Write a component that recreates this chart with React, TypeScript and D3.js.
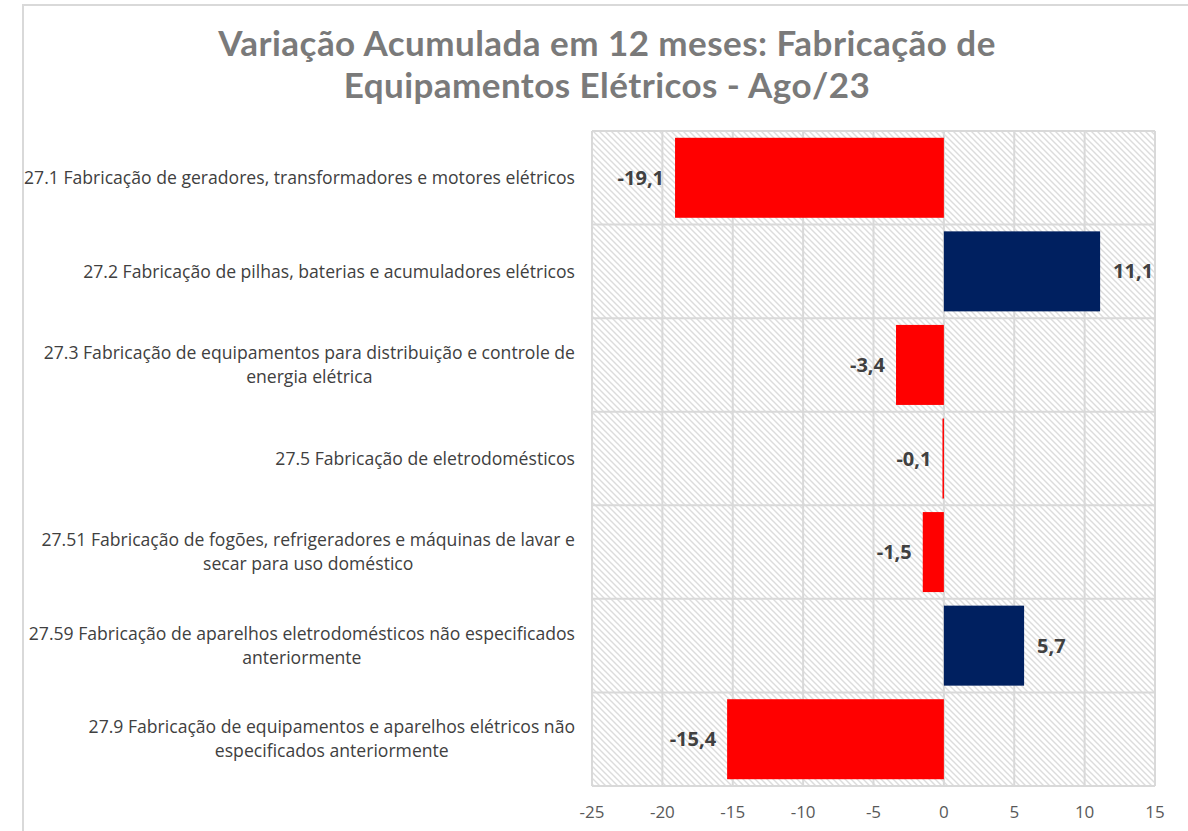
import React, { useEffect, useRef } from 'react'
import * as d3 from 'd3'

const title = [
    'Variação Acumulada em 12 meses: Fabricação de',
    'Equipamentos Elétricos - Ago/23'
]

// category labels, already broken in lines as in the source chart
const categories: string[][] = [
    ['27.1 Fabricação de geradores, transformadores e motores elétricos'],
    ['27.2 Fabricação de pilhas, baterias e acumuladores elétricos'],
    ['27.3 Fabricação de equipamentos para distribuição e controle de', 'energia elétrica'],
    ['27.5 Fabricação de eletrodomésticos'],
    ['27.51 Fabricação de fogões, refrigeradores e máquinas de lavar e', 'secar para uso doméstico'],
    ['27.59 Fabricação de aparelhos eletrodomésticos não especificados', 'anteriormente'],
    ['27.9 Fabricação de equipamentos e aparelhos elétricos não', 'especificados anteriormente']
]
const values = [-19.1, 11.1, -3.4, -0.1, -1.5, 5.7, -15.4]
const xTicks = [-25, -20, -15, -10, -5, 0, 5, 10, 15]

const W = 1188
const H = 831
const plot = { left: 592, right: 1155, top: 131, bottom: 786 }
const labelRight = 575
const labelFont = "'Open Sans', Lato, sans-serif"

const fmt = (v: number) => v.toFixed(1).replace('.', ',')

const App: React.FC = () => {
    const ref = useRef<any>()
    useEffect(() => {
        const svg = d3.select(ref.current)
        const idx = values.map((_, i) => String(i))
        const x = d3.scaleLinear().domain([-25, 15]).range([plot.left, plot.right])
        const y = d3
            .scaleBand()
            .domain(idx)
            .range([plot.top, plot.bottom])
            .paddingInner(0.145)
            .paddingOuter(0.0725)
        const step = y.step()

        const grid = svg.select('.grid')
        grid.selectAll('*').remove()
        grid.append('rect')
            .attr('x', plot.left)
            .attr('y', plot.top)
            .attr('width', plot.right - plot.left)
            .attr('height', plot.bottom - plot.top)
            .attr('fill', 'url(#hatch)')
        grid.selectAll('line.v')
            .data(xTicks)
            .join('line')
            .attr('class', 'v')
            .attr('x1', (d) => x(d))
            .attr('x2', (d) => x(d))
            .attr('y1', plot.top)
            .attr('y2', plot.bottom)
            .attr('stroke', '#d9d9d9')
            .attr('stroke-width', 2)
        grid.selectAll('line.h')
            .data(d3.range(values.length + 1))
            .join('line')
            .attr('class', 'h')
            .attr('x1', plot.left)
            .attr('x2', plot.right)
            .attr('y1', (d) => plot.top + d * step)
            .attr('y2', (d) => plot.top + d * step)
            .attr('stroke', '#d9d9d9')
            .attr('stroke-width', 2)

        svg.select('.bars')
            .selectAll('rect')
            .data(values)
            .join('rect')
            .attr('x', (d) => x(Math.min(0, d)))
            .attr('width', (d) => Math.max(1.5, Math.abs(x(d) - x(0))))
            .attr('y', (_, i) => y(String(i)) as number)
            .attr('height', y.bandwidth())
            .attr('fill', (d) => (d < 0 ? '#ff0000' : '#002060'))

        svg.select('.values')
            .selectAll('text')
            .data(values)
            .join('text')
            .attr('x', (d) => (d < 0 ? x(d) - 11 : x(d) + 13))
            .attr('y', (_, i) => (y(String(i)) as number) + y.bandwidth() / 2)
            .attr('dy', '0.35em')
            .attr('text-anchor', (d) => (d < 0 ? 'end' : 'start'))
            .attr('font-family', labelFont)
            .attr('font-weight', 'bold')
            .attr('font-size', 20)
            .attr('fill', '#404040')
            .text((d) => fmt(d))

        svg.select('.xaxis')
            .selectAll('text')
            .data(xTicks)
            .join('text')
            .attr('x', (d) => x(d))
            .attr('y', 812)
            .attr('dy', '0.35em')
            .attr('text-anchor', 'middle')
            .attr('font-family', labelFont)
            .attr('font-size', 17)
            .attr('fill', '#595959')
            .text((d) => String(d))

        // category labels: lines centred on each other, block right-aligned
        const cats = svg.select('.cats')
        cats.selectAll('*').remove()
        categories.forEach((lines, i) => {
            const cy = (y(String(i)) as number) + y.bandwidth() / 2
            const g = cats.append('g')
            const lh = 24
            const texts = lines.map((l, j) =>
                g
                    .append('text')
                    .attr('y', cy + (j - (lines.length - 1) / 2) * lh)
                    .attr('dy', '0.35em')
                    .attr('text-anchor', 'middle')
                    .attr('font-family', labelFont)
                    .attr('font-size', 17.6)
                    .attr('fill', '#404040')
                    .text(l)
            )
            const widths = texts.map((t) => (t.node() as SVGTextElement).getComputedTextLength())
            const maxW = d3.max(widths) as number
            texts.forEach((t) => t.attr('x', labelRight - maxW / 2))
        })
    }, [])

    return (
        <div style={{ width: W, height: H }}>
            <svg
                ref={ref}
                width={W}
                height={H}
                style={{ position: 'absolute', left: 0, top: 0, background: '#fff' }}
            >
                <defs>
                    <pattern id='hatch' width={6} height={6} patternUnits='userSpaceOnUse'>
                        <rect width={6} height={6} fill='#fff' />
                        <path d='M-1,-1 L7,7 M-4,2 L2,8 M4,-2 L8,2' stroke='#dcdcdc' strokeWidth={1.4} />
                    </pattern>
                </defs>
                <rect x={23} y={5} width={W} height={H} fill='#fff' stroke='#d9d9d9' strokeWidth={2} />
                <text
                    x={607}
                    textAnchor='middle'
                    fontFamily="Lato, 'Open Sans', sans-serif"
                    fontWeight='bold'
                    fontSize={35}
                    letterSpacing={0.45}
                    fill='#7a7a7a'
                >
                    <tspan x={607} y={56}>{title[0]}</tspan>
                    <tspan x={607} y={98}>{title[1]}</tspan>
                </text>
                <g className='grid'></g>
                <g className='bars'></g>
                <g className='values'></g>
                <g className='xaxis'></g>
                <g className='cats'></g>
            </svg>
        </div>
    )
}

export default App
